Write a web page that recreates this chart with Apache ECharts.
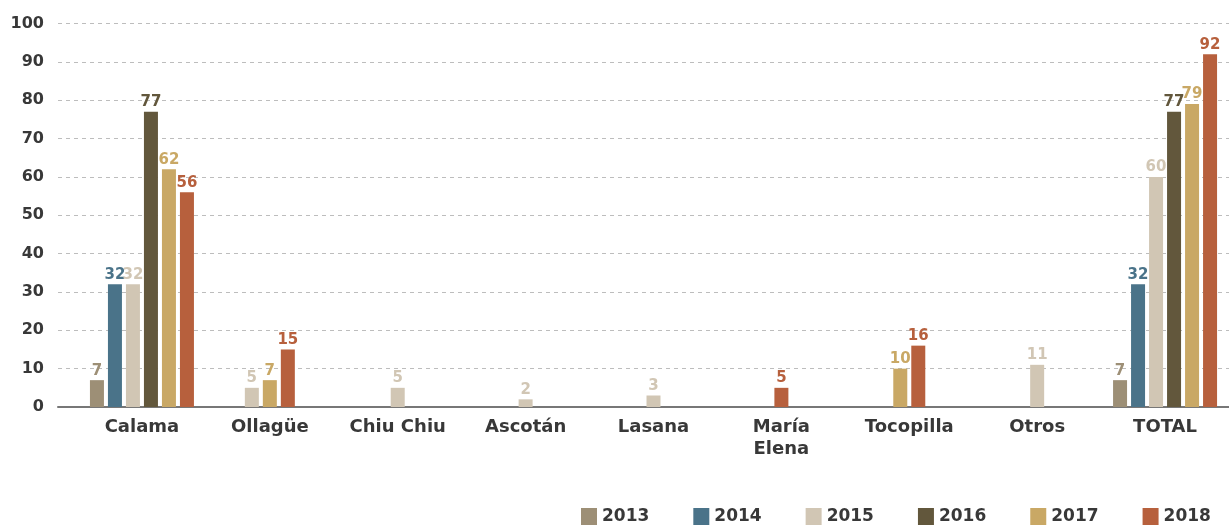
<!DOCTYPE html>
<html>

<head>
    <meta charset="utf-8">
    <title>Antofagasta por comuna</title>
    <script src="https://cdn.jsdelivr.net/npm/echarts@6/dist/echarts.min.js"></script>
    <style>
        html, body {
            margin: 0;
            padding: 0;
            background: #ffffff;
        }
        #main {
            width: 1229px;
            height: 525px;
        }
    </style>
</head>

<body>
    <div id="main"></div>
    <script type="text/javascript">
        // datos
        var categories = ['Calama', 'Ollagüe', 'Chiu Chiu', 'Ascotán', 'Lasana', 'María\nElena', 'Tocopilla', 'Otros', 'TOTAL'];
        var years = ['2013', '2014', '2015', '2016', '2017', '2018'];
        var v2013 = [7, null, null, null, null, null, null, null, 7];
        var v2014 = [32, null, null, null, null, null, null, null, 32];
        var v2015 = [32, 5, 5, 2, 3, null, null, 11, 60];
        var v2016 = [77, null, null, null, null, null, null, null, 77];
        var v2017 = [62, 7, null, null, null, null, 10, null, 79];
        var v2018 = [56, 15, null, null, null, 5, 16, null, 92];
        var yTicks = [0, 10, 20, 30, 40, 50, 60, 70, 80, 90, 100];

        var seriesVals = [v2013, v2014, v2015, v2016, v2017, v2018];
        var colors = ['#9d8f76', '#4a7389', '#d1c6b4', '#62573c', '#c9a865', '#b7603d'];

        var BAR_W = 14;
        var PITCH = 18;
        var FONT = '"DejaVu Sans", "Open Sans", sans-serif';
        var TEXT = '#383838';

        var chart = echarts.init(document.getElementById('main'));

        // solo las barras con dato, centradas en su categoria
        function renderBar(params, api) {
            var c = api.value(0);
            var v = api.value(1);
            var s = params.seriesIndex;
            var present = [];
            seriesVals.forEach(function (arr, i) {
                if (arr[c] != null) present.push(i);
            });
            var rank = present.indexOf(s);
            var n = present.length;
            var base = api.coord([c, 0]);
            var top = api.coord([c, v]);
            var x = base[0] + (rank - (n - 1) / 2) * PITCH;
            var color = api.visual('color');
            return {
                type: 'group',
                children: [
                    {
                        type: 'rect',
                        shape: { x: x - BAR_W / 2, y: top[1], width: BAR_W, height: base[1] - top[1] },
                        style: { fill: color }
                    },
                    {
                        type: 'text',
                        style: {
                            text: String(v),
                            x: x,
                            y: top[1] - 2,
                            align: 'center',
                            verticalAlign: 'bottom',
                            fill: color,
                            font: 'bold 15px ' + FONT
                        }
                    }
                ]
            };
        }

        var series = years.map(function (y, i) {
            return {
                name: y,
                type: 'custom',
                xAxisIndex: 1,
                yAxisIndex: 1,
                itemStyle: { color: colors[i] },
                encode: { x: 0, y: 1 },
                renderItem: renderBar,
                data: seriesVals[i]
                    .map(function (v, c) { return v == null ? null : [c, v]; })
                    .filter(function (d) { return d; })
            };
        });

        var option = {
            animation: false,
            legend: {
                data: years,
                left: 581,
                top: 508,
                padding: 0,
                icon: 'rect',
                itemWidth: 16,
                itemHeight: 17,
                itemGap: 44,
                textStyle: {
                    color: TEXT,
                    fontSize: 17,
                    fontWeight: 'bold',
                    fontFamily: FONT
                }
            },
            grid: [
                { left: 58, right: 0, top: 23.5, bottom: 118 },
                { left: 78, width: 1158, top: 23.5, bottom: 118 }
            ],
            xAxis: [
                {
                    type: 'category',
                    gridIndex: 0,
                    data: categories,
                    axisLine: { show: true, lineStyle: { color: '#777777', width: 2 } },
                    axisTick: { show: false },
                    axisLabel: { show: false }
                },
                {
                    type: 'category',
                    gridIndex: 1,
                    data: categories,
                    axisLine: { show: false },
                    axisTick: { show: false },
                    axisLabel: {
                        interval: 0,
                        margin: 9,
                        color: TEXT,
                        fontSize: 18,
                        lineHeight: 22,
                        fontWeight: 'bold',
                        fontFamily: FONT
                    }
                }
            ],
            yAxis: [
                {
                    type: 'value',
                    gridIndex: 0,
                    min: yTicks[0],
                    max: yTicks[yTicks.length - 1],
                    interval: yTicks[1] - yTicks[0],
                    axisLine: { show: false },
                    axisTick: { show: false },
                    axisLabel: {
                        margin: 14,
                        color: TEXT,
                        fontSize: 16,
                        fontWeight: 'bold',
                        fontFamily: FONT
                    },
                    splitLine: {
                        show: true,
                        lineStyle: { color: '#bdbdbd', type: [4, 4], width: 1 }
                    }
                },
                {
                    type: 'value',
                    gridIndex: 1,
                    min: yTicks[0],
                    max: yTicks[yTicks.length - 1],
                    interval: yTicks[1] - yTicks[0],
                    show: false
                }
            ],
            series: series
        };

        chart.setOption(option);
    </script>
</body>

</html>
